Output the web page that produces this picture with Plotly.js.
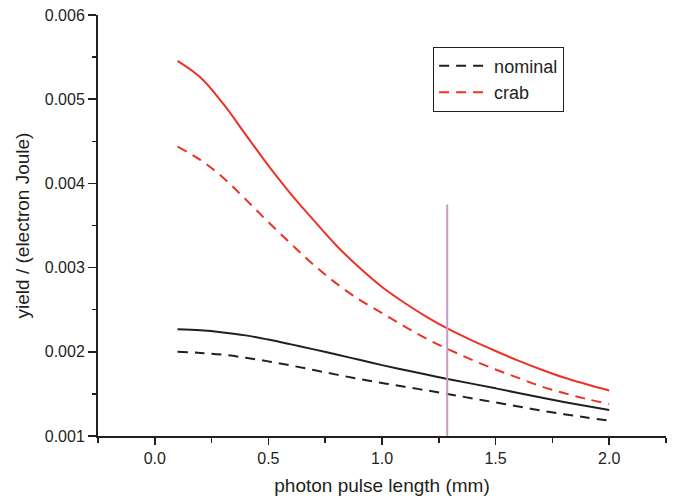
<!DOCTYPE html>
<html>
<head>
<meta charset="utf-8">
<script src="https://cdn.plot.ly/plotly-3.0.1.min.js"></script>
<style>html,body{margin:0;padding:0;background:#fff;}#chart{width:673px;height:500px;}</style>
</head>
<body>
<div id="chart"></div>
<script>
const pulseLength = [0.1,0.2,0.3,0.4,0.5,0.6,0.7,0.8,0.9,1.0,1.1,1.2,1.3,1.4,1.5,1.6,1.7,1.8,1.9,2.0];
const crabSolid = [0.005455,0.00526,0.00495,0.00458,0.00421,0.00387,0.00356,0.00326,0.00300,0.00277,0.00258,0.00241,0.00226,0.00213,0.00201,0.001895,0.00179,0.001695,0.001615,0.00154];
const crabDashed = [0.004436,0.00428,0.00407,0.00381,0.00354,0.00328,0.00303,0.00281,0.00262,0.00246,0.00230,0.00215,0.00202,0.00190,0.00179,0.00169,0.00159,0.00151,0.00144,0.00138];
const nominalSolid = [0.002267,0.002255,0.00223,0.002195,0.002145,0.002088,0.002029,0.001967,0.001905,0.001842,0.001783,0.001727,0.001672,0.001619,0.001566,0.001511,0.001456,0.001404,0.001356,0.001309];
const nominalDashed = [0.002001,0.001987,0.001965,0.00193,0.001886,0.001837,0.001783,0.001729,0.001677,0.00163,0.001585,0.001540,0.001494,0.001446,0.001398,0.001350,0.001303,0.001259,0.00122,0.001182];
const markerX = [1.287, 1.287];
const markerY = [0.001, 0.00375];

const red = '#ee3124';
const black = '#231f20';
const dashPat = '10px,7px';

const traces = [
  {x: pulseLength, y: nominalDashed, mode: 'lines', name: 'nominal', line: {color: black, width: 2, dash: dashPat, shape: 'spline'}},
  {x: pulseLength, y: crabDashed, mode: 'lines', name: 'crab', line: {color: red, width: 2, dash: dashPat, shape: 'spline'}},
  {x: pulseLength, y: nominalSolid, mode: 'lines', showlegend: false, line: {color: black, width: 2, shape: 'spline'}},
  {x: pulseLength, y: crabSolid, mode: 'lines', showlegend: false, line: {color: red, width: 2, shape: 'spline'}},
  {x: markerX, y: markerY, mode: 'lines', showlegend: false, line: {color: '#c99acb', width: 2}}
];

const font = 'Liberation Sans, Arial, sans-serif';
const layout = {
  width: 673, height: 500,
  margin: {l: 98, r: 7, t: 15, b: 64},
  paper_bgcolor: '#fff', plot_bgcolor: '#fff',
  font: {family: font, color: '#231f20'},
  showlegend: true,
  legend: {x: 0.59, y: 0.925, xanchor: 'left', yanchor: 'top', bgcolor: '#fff', bordercolor: '#231f20', borderwidth: 1, font: {size: 18, family: font}, itemwidth: 50, tracegroupgap: 0},
  xaxis: {
    range: [-0.25, 2.25], tickvals: [0, 0.5, 1.0, 1.5, 2.0], ticktext: ['0.0','0.5','1.0','1.5','2.0'],
    ticks: 'outside', ticklen: 7, tickwidth: 1.5, tickcolor: '#231f20',
    minor: {dtick: 0.25, tick0: 0, ticks: 'outside', ticklen: 5, tickwidth: 1.5, tickcolor: '#231f20', showgrid: false},
    showline: true, linecolor: '#231f20', linewidth: 2, showgrid: false, zeroline: false,
    tickfont: {size: 16}, title: {text: 'photon pulse length (mm)', font: {size: 19}, standoff: 12}
  },
  yaxis: {
    range: [0.001, 0.006], tickvals: [0.001,0.002,0.003,0.004,0.005,0.006], ticktext: ['0.001','0.002','0.003','0.004','0.005','0.006'],
    ticks: 'outside', ticklen: 8, tickwidth: 1.5, tickcolor: '#231f20',
    minor: {dtick: 0.0005, tick0: 0, ticks: 'outside', ticklen: 4, tickwidth: 1.5, tickcolor: '#231f20', showgrid: false},
    showline: true, linecolor: '#231f20', linewidth: 2, showgrid: false, zeroline: false,
    tickfont: {size: 16}, title: {text: 'yield / (electron Joule)', font: {size: 19}, standoff: 10}
  }
};
Plotly.newPlot('chart', traces, layout, {displayModeBar: false, staticPlot: true});
</script>
</body>
</html>
